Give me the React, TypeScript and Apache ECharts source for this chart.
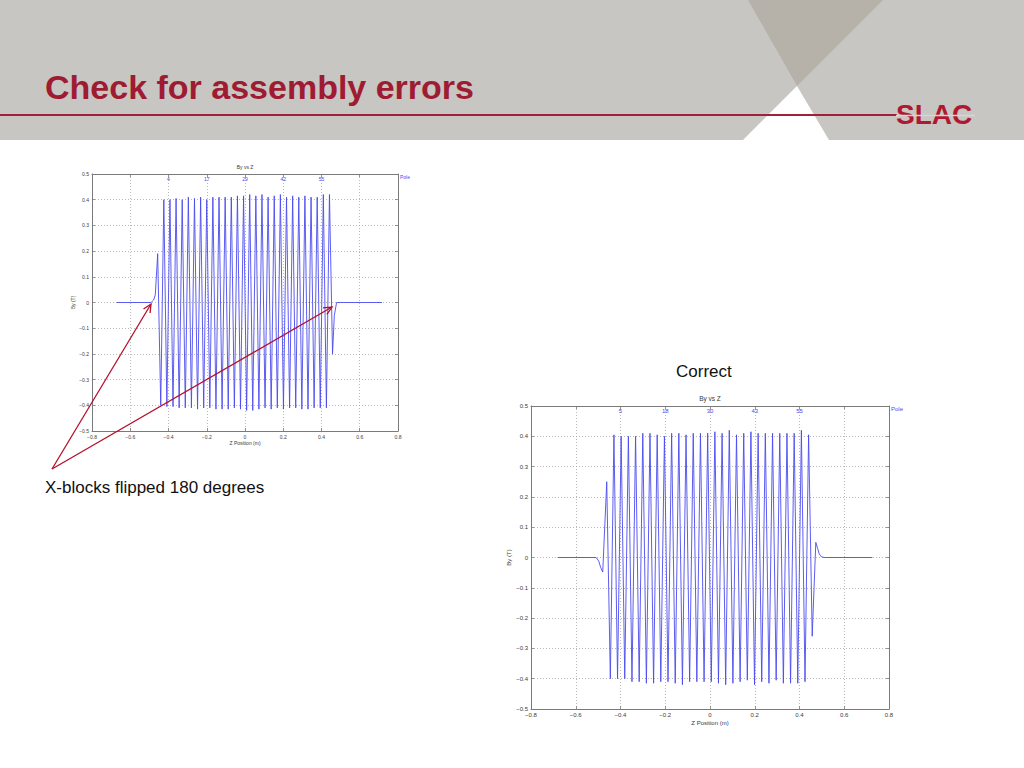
import React, { useEffect, useRef } from "react";
import * as echarts from "echarts";

// ---------- data ----------
// Flipped X-blocks (top-left plot): peak positions (m) and peak fields (T)
const flippedPeakZ = [
  -0.4566, -0.4406, -0.4245, -0.4085, -0.3924, -0.3764, -0.3604, -0.3443, -0.3283, -0.3122,
  -0.2962, -0.2802, -0.2641, -0.2481, -0.232, -0.216, -0.2, -0.1839, -0.1679, -0.1518,
  -0.1358, -0.1198, -0.1037, -0.0877, -0.0716, -0.0556, -0.0396, -0.0235, -0.0075, 0.0086,
  0.0246, 0.0406, 0.0567, 0.0727, 0.0888, 0.1048, 0.1208, 0.1369, 0.1529, 0.169,
  0.185, 0.201, 0.2171, 0.2331, 0.2492, 0.2652, 0.2812, 0.2973, 0.3133, 0.3294,
  0.3454, 0.3614, 0.3775, 0.3935, 0.4096, 0.4256, 0.4416, 0.4577,
];
const flippedPeakBy = [
  0.19, -0.4, 0.4, -0.405, 0.4, -0.405, 0.405, -0.41, 0.4, -0.41,
  0.41, -0.41, 0.405, -0.415, 0.41, -0.41, 0.4, -0.41, 0.41, -0.415,
  0.41, -0.415, 0.41, -0.415, 0.41, -0.41, 0.415, -0.415, 0.415, -0.42,
  0.42, -0.42, 0.415, -0.415, 0.42, -0.41, 0.41, -0.415, 0.415, -0.41,
  0.42, -0.415, 0.41, -0.41, 0.415, -0.41, 0.41, -0.415, 0.415, -0.415,
  0.41, -0.41, 0.41, -0.41, 0.42, -0.41, 0.42, -0.2,
];
const flippedLeadZ = [-0.671, -0.4915, -0.4776, -0.469];
const flippedLeadBy = [0, 0, 0.01, 0.03];
const flippedTailZ = [0.467, 0.479, 0.7163];
const flippedTailBy = [-0.05, 0, 0];

// Correct assembly (bottom-right plot)
const correctPeakZ = [
  -0.4615, -0.4454, -0.4293, -0.4132, -0.3971, -0.381, -0.3648, -0.3487, -0.3326, -0.3165,
  -0.3004, -0.2843, -0.2682, -0.2521, -0.236, -0.2199, -0.2037, -0.1876, -0.1715, -0.1554,
  -0.1393, -0.1232, -0.1071, -0.091, -0.0749, -0.0588, -0.0426, -0.0265, -0.0104, 0.0057,
  0.0218, 0.0379, 0.054, 0.0701, 0.0862, 0.1024, 0.1185, 0.1346, 0.1507, 0.1668,
  0.1829, 0.199, 0.2151, 0.2312, 0.2473, 0.2635, 0.2796, 0.2957, 0.3118, 0.3279,
  0.344, 0.3601, 0.3762, 0.3923, 0.4084, 0.4246, 0.4407, 0.4568, 0.4729,
];
const correctPeakBy = [
  0.25, -0.4, 0.405, -0.4, 0.4, -0.4, 0.4, -0.41, 0.4, -0.41,
  0.41, -0.415, 0.41, -0.415, 0.405, -0.41, 0.4, -0.41, 0.41, -0.415,
  0.41, -0.42, 0.405, -0.41, 0.41, -0.41, 0.41, -0.41, 0.41, -0.41,
  0.415, -0.415, 0.41, -0.42, 0.42, -0.415, 0.405, -0.41, 0.41, -0.405,
  0.415, -0.42, 0.41, -0.41, 0.41, -0.415, 0.41, -0.405, 0.41, -0.415,
  0.41, -0.415, 0.41, -0.415, 0.42, -0.41, 0.405, -0.26, 0.05,
];
const correctLeadZ = [-0.6807, -0.509, -0.497, -0.489, -0.4794];
const correctLeadBy = [0, 0, -0.012, -0.032, -0.048];
const correctTailZ = [0.481, 0.488, 0.497, 0.51, 0.7255];
const correctTailBy = [0.03, 0.012, 0.003, 0, 0];

// Pole annotations on the top axis
const poleTickZ = [-0.4, -0.2, 0, 0.2, 0.4];
const flippedPoleLabels = ["4", "17", "29", "42", "55"];
const correctPoleLabels = ["5", "18", "30", "43", "55"];

// ---------- styling ----------
const FONT = '"Liberation Sans", Arial, Helvetica, sans-serif';
const RED = "#9e1b32";
const LINE_RED = "#a3203a";
const HEADER = "#c8c6c2";
const BLUE = "#4b4bef";
const AXIS = "#7a7a7a";
const TXT = "#3a3a3a";

const zip = (zs: number[], bs: number[]) => zs.map((z, i) => [z, bs[i]]);

const fmt = (v: number) =>
  Math.abs(v) < 1e-9 ? "0" : (v < 0 ? "\u2212" : "") + Math.abs(v).toFixed(1);

function axesFor(
  gridIndex: number,
  fs: number,
  poleLabels: string[],
  xNameGap: number,
  yNameGap: number
) {
  const tick = { show: true, inside: true, length: 3, lineStyle: { color: AXIS, width: 0.8 } };
  const line = { show: true, onZero: false, lineStyle: { color: AXIS, width: 1 } };
  const grid = { show: true, lineStyle: { type: [1, 2], color: "#9a9a9a", width: 0.7 } };
  const xs = [
    {
      gridIndex,
      type: "value",
      min: -0.8,
      max: 0.8,
      interval: 0.2,
      position: "bottom",
      axisLine: line,
      axisTick: tick,
      axisLabel: { fontSize: fs, color: TXT, margin: 3, fontFamily: FONT, formatter: fmt },
      splitLine: grid,
      name: "Z Position (m)",
      nameLocation: "middle",
      nameGap: xNameGap,
      nameTextStyle: { fontSize: fs, color: TXT, fontFamily: FONT },
    },
    {
      gridIndex,
      type: "value",
      min: -0.8,
      max: 0.8,
      interval: 0.2,
      position: "top",
      axisLine: line,
      axisTick: tick,
      axisLabel: {
        inside: true,
        margin: 2,
        fontSize: fs,
        color: BLUE,
        fontFamily: FONT,
        formatter: (v: number) => {
          const i = poleTickZ.findIndex((p) => Math.abs(p - v) < 1e-6);
          return i >= 0 ? poleLabels[i] : "";
        },
      },
      splitLine: { show: false },
      name: "Pole",
      nameLocation: "end",
      nameGap: 2,
      nameTextStyle: { fontSize: fs, color: BLUE, fontFamily: FONT, verticalAlign: "top", align: "left" },
    },
  ];
  const ys = [
    {
      gridIndex,
      type: "value",
      min: -0.5,
      max: 0.5,
      interval: 0.1,
      position: "left",
      axisLine: line,
      axisTick: tick,
      axisLabel: { fontSize: fs, color: TXT, margin: 3, fontFamily: FONT, formatter: fmt },
      splitLine: grid,
      name: "By (T)",
      nameLocation: "middle",
      nameRotate: 90,
      nameGap: yNameGap,
      nameTextStyle: { fontSize: fs, color: TXT, fontFamily: FONT },
    },
    {
      gridIndex,
      type: "value",
      min: -0.5,
      max: 0.5,
      interval: 0.1,
      position: "right",
      axisLine: line,
      axisTick: tick,
      axisLabel: { show: false },
      splitLine: { show: false },
    },
  ];
  return { xs, ys };
}

function arrow(x1: number, y1: number, x2: number, y2: number) {
  const dx = x2 - x1;
  const dy = y2 - y1;
  const L = Math.hypot(dx, dy);
  const ux = dx / L;
  const uy = dy / L;
  const len = 9;
  const a = (25 * Math.PI) / 180;
  const rot = (s: number) => [
    x2 - len * (ux * Math.cos(s * a) - uy * Math.sin(s * a)),
    y2 - len * (ux * Math.sin(s * a) + uy * Math.cos(s * a)),
  ];
  const style = { stroke: "#b3102b", lineWidth: 1.3, fill: "none" };
  return [
    { type: "line", shape: { x1, y1, x2, y2 }, style, z: 100 },
    { type: "polyline", shape: { points: [rot(1), [x2, y2], rot(-1)] }, style, z: 100 },
  ];
}

export default function App() {
  const ref = useRef<HTMLDivElement>(null);

  useEffect(() => {
    if (!ref.current) return;
    const chart = echarts.init(ref.current, undefined, { renderer: "svg" });

    const a0 = axesFor(0, 5, flippedPoleLabels, 9, 14);
    const a1 = axesFor(1, 6, correctPoleLabels, 11, 18);

    const flippedData = [
      ...zip(flippedLeadZ, flippedLeadBy),
      ...zip(flippedPeakZ, flippedPeakBy),
      ...zip(flippedTailZ, flippedTailBy),
    ];
    const correctData = [
      ...zip(correctLeadZ, correctLeadBy),
      ...zip(correctPeakZ, correctPeakBy),
      ...zip(correctTailZ, correctTailBy),
    ];

    const option: any = {
      animation: false,
      backgroundColor: "#ffffff",
      grid: [
        { left: 92, top: 174, width: 306, height: 257, containLabel: false },
        { left: 531, top: 406, width: 358, height: 303, containLabel: false },
      ],
      xAxis: [...a0.xs, ...a1.xs],
      yAxis: [...a0.ys, ...a1.ys],
      series: [
        {
          type: "line",
          xAxisIndex: 0,
          yAxisIndex: 0,
          data: flippedData,
          showSymbol: false,
          symbol: "none",
          silent: true,
          lineStyle: { color: BLUE, width: 0.9 },
        },
        {
          type: "line",
          xAxisIndex: 2,
          yAxisIndex: 2,
          data: correctData,
          showSymbol: false,
          symbol: "none",
          silent: true,
          lineStyle: { color: BLUE, width: 0.9 },
        },
      ],
      graphic: [
        // header band
        { type: "rect", shape: { x: 0, y: 0, width: 1024, height: 140 }, style: { fill: HEADER }, z: 0 },
        {
          type: "polygon",
          shape: { points: [[748, 0], [883, 0], [797, 86]] },
          style: { fill: "#b6b2aa" },
          z: 1,
        },
        {
          type: "polygon",
          shape: { points: [[797, 86], [743, 140], [829, 140]] },
          style: { fill: "#ffffff" },
          z: 1,
        },
        {
          type: "line",
          shape: { x1: 0, y1: 115, x2: 897, y2: 115 },
          style: { stroke: LINE_RED, lineWidth: 2 },
          z: 2,
        },
        {
          type: "text",
          x: 45,
          y: 87,
          style: {
            text: "Check for assembly errors",
            fill: RED,
            fontSize: 34,
            fontWeight: "bold",
            fontFamily: FONT,
            align: "left",
            verticalAlign: "middle",
          },
          z: 3,
        },
        // SLAC logo
        {
          type: "text",
          x: 896,
          y: 114,
          style: {
            text: "SLAC",
            fill: "#b0182f",
            fontSize: 28,
            fontWeight: "bold",
            fontFamily: FONT,
            align: "left",
            verticalAlign: "middle",
          },
          z: 3,
        },
        {
          type: "line",
          shape: { x1: 896, y1: 115.5, x2: 975, y2: 115.5 },
          style: { stroke: "#d8d6d2", lineWidth: 1.4 },
          z: 4,
        },
        // chart titles
        {
          type: "text",
          x: 245,
          y: 167,
          style: { text: "By vs Z", fill: TXT, fontSize: 5, fontFamily: FONT, align: "center", verticalAlign: "middle" },
        },
        {
          type: "text",
          x: 710,
          y: 398,
          style: { text: "By vs Z", fill: TXT, fontSize: 6.5, fontFamily: FONT, align: "center", verticalAlign: "middle" },
        },
        // annotations
        {
          type: "text",
          x: 676,
          y: 371,
          style: { text: "Correct", fill: "#111", fontSize: 17, fontFamily: FONT, align: "left", verticalAlign: "middle" },
        },
        {
          type: "text",
          x: 45,
          y: 487,
          style: {
            text: "X-blocks flipped 180 degrees",
            fill: "#111",
            fontSize: 17,
            fontFamily: FONT,
            align: "left",
            verticalAlign: "middle",
          },
        },
        ...arrow(52, 469, 151, 304),
        ...arrow(52, 469, 332, 307),
      ],
    };

    chart.setOption(option);
    return () => chart.dispose();
  }, []);

  return (
    <div
      ref={ref}
      style={{ position: "absolute", left: 0, top: 0, width: 1024, height: 768 }}
    />
  );
}
